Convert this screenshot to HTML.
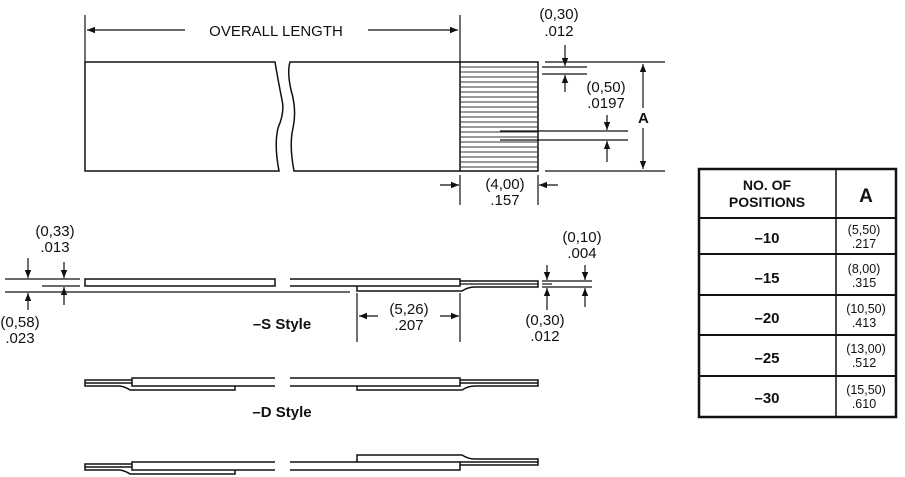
<!DOCTYPE html>
<html><head><meta charset="utf-8"><style>
body{margin:0;background:#fff}
svg{display:block}
text{font-family:"Liberation Sans",sans-serif;fill:#111}
</style></head><body>
<svg width="905" height="477" viewBox="0 0 905 477" xmlns="http://www.w3.org/2000/svg">
<defs>
<marker id="a" viewBox="0 0 10 10" refX="10" refY="5" markerWidth="12" markerHeight="8" markerUnits="userSpaceOnUse" orient="auto-start-reverse"><path d="M0,1 L10,5 L0,9 z" fill="#111"/></marker>
</defs>
<g stroke="#111" stroke-width="1.2" fill="none">
<!-- top view -->
<line x1="85" y1="15" x2="85" y2="62"/><line x1="460" y1="15" x2="460" y2="62"/>
<line x1="87" y1="30" x2="185" y2="30" marker-start="url(#a)"/>
<line x1="368" y1="30" x2="458" y2="30" marker-end="url(#a)"/>
<path d="M85,62 H275 Q278,80 282,100 Q285,112 278,128 Q274,145 279,171 H85 Z" stroke-width="1.5"/>
<path d="M460,62 H290 Q287,72 291,90 Q297,110 293,128 Q289,145 294,171 H460" stroke-width="1.5"/>
<rect x="460" y="62" width="78" height="109" stroke-width="1.5"/>
<path d="M460,67H538M460,72H538M460,77H538M460,82H538M460,87H538M460,92H538M460,97H538M460,102H538M460,107H538M460,112H538M460,117H538M460,122H538M460,127H538M460,132H538M460,137H538M460,142H538M460,147H538M460,152H538M460,157H538M460,162H538M460,167H538" stroke="#333" stroke-width="1.1"/>
<line x1="545" y1="62" x2="665" y2="62"/>
<line x1="542" y1="67" x2="587" y2="67"/><line x1="542" y1="74" x2="587" y2="74"/>
<line x1="565" y1="45" x2="565" y2="66" marker-end="url(#a)"/>
<line x1="565" y1="92" x2="565" y2="75" marker-end="url(#a)"/>
<line x1="500" y1="131" x2="628" y2="131"/><line x1="500" y1="140" x2="628" y2="140"/>
<line x1="607" y1="115" x2="607" y2="130" marker-end="url(#a)"/>
<line x1="607" y1="162" x2="607" y2="141" marker-end="url(#a)"/>
<line x1="545" y1="171" x2="665" y2="171"/>
<line x1="643" y1="64" x2="643" y2="108" marker-start="url(#a)"/>
<line x1="643" y1="128" x2="643" y2="169" marker-end="url(#a)"/>
<line x1="538" y1="175" x2="538" y2="205"/><line x1="460" y1="175" x2="460" y2="205"/>
<line x1="440" y1="185" x2="459" y2="185" marker-end="url(#a)"/>
<line x1="558" y1="185" x2="539" y2="185" marker-end="url(#a)"/>
<!-- S style -->
<line x1="5" y1="279" x2="80" y2="279"/><line x1="42" y1="286" x2="80" y2="286"/>
<line x1="5" y1="292" x2="350" y2="292"/>
<rect x="85" y="279" width="190" height="7" stroke-width="1.5"/>
<path d="M290,279 H460 V286 H290" stroke-width="1.5"/>
<path d="M460,281 H538 V287 H475 Q468,287 462,291 H357 V286" stroke-width="1.5"/>
<line x1="460" y1="284" x2="538" y2="284"/>
<line x1="542" y1="281" x2="592" y2="281"/><line x1="542" y1="284" x2="552" y2="284"/><line x1="542" y1="287" x2="592" y2="287"/>
<line x1="28" y1="258" x2="28" y2="278" marker-end="url(#a)"/>
<line x1="28" y1="310" x2="28" y2="293" marker-end="url(#a)"/>
<line x1="64" y1="262" x2="64" y2="278" marker-end="url(#a)"/>
<line x1="64" y1="305" x2="64" y2="287" marker-end="url(#a)"/>
<line x1="547" y1="265" x2="547" y2="280" marker-end="url(#a)"/>
<line x1="547" y1="310" x2="547" y2="288" marker-end="url(#a)"/>
<line x1="585" y1="265" x2="585" y2="280" marker-end="url(#a)"/>
<line x1="585" y1="307" x2="585" y2="288" marker-end="url(#a)"/>
<line x1="357" y1="293" x2="357" y2="342"/><line x1="460" y1="293" x2="460" y2="342"/>
<line x1="378" y1="316" x2="359" y2="316" marker-end="url(#a)"/>
<line x1="440" y1="316" x2="459" y2="316" marker-end="url(#a)"/>
<!-- D style -->
<g stroke-width="1.5">
<path d="M275,378 H132 V386 H275"/><path d="M132,380 H85 V386 H118 Q124,386 130,390 H235 V386"/><line x1="85" y1="383" x2="132" y2="383"/>
<path d="M290,378 H460 V386 H290"/><path d="M460,380 H538 V386 H475 Q468,386 462,390 H357 V386"/><line x1="460" y1="383" x2="538" y2="383"/>
<path d="M275,462 H132 V470 H275"/><path d="M132,464 H85 V470 H118 Q124,470 130,474 H235 V470"/><line x1="85" y1="467" x2="132" y2="467"/>
<path d="M290,462 H460 V470 H290"/><path d="M357,462 V455 H462 Q468,459 475,459 H538 V465 H460"/><line x1="460" y1="462" x2="538" y2="462"/>
</g>
<!-- table -->
<rect x="699" y="169" width="197" height="248" stroke-width="2.5"/>
<line x1="836" y1="169" x2="836" y2="417" stroke-width="1.5"/>
<line x1="699" y1="218" x2="896" y2="218" stroke-width="2"/>
<line x1="699" y1="254" x2="896" y2="254" stroke-width="2"/>
<line x1="699" y1="295" x2="896" y2="295" stroke-width="2"/>
<line x1="699" y1="335" x2="896" y2="335" stroke-width="2"/>
<line x1="699" y1="376" x2="896" y2="376" stroke-width="2"/>
</g>
<g font-size="15" text-anchor="middle">
<text x="276" y="36">OVERALL LENGTH</text>
<text x="559" y="19">(0,30)</text><text x="559" y="36">.012</text>
<text x="606" y="92">(0,50)</text><text x="606" y="108">.0197</text>
<text x="505" y="189">(4,00)</text><text x="505" y="205">.157</text>
<text x="55" y="236">(0,33)</text><text x="55" y="252">.013</text>
<text x="20" y="327">(0,58)</text><text x="20" y="343">.023</text>
<text x="582" y="242">(0,10)</text><text x="582" y="258">.004</text>
<text x="545" y="325">(0,30)</text><text x="545" y="341">.012</text>
<text x="409" y="314">(5,26)</text><text x="409" y="330">.207</text>
</g>
<g font-weight="bold" text-anchor="middle">
<text x="638" y="123" font-size="15" text-anchor="start">A</text>
<text x="282" y="329" font-size="15">–S Style</text>
<text x="282" y="417" font-size="15">–D Style</text>
<text x="767" y="190" font-size="14">NO. OF</text>
<text x="767" y="207" font-size="14">POSITIONS</text>
<text x="866" y="202" font-size="19">A</text>
<text x="767" y="243" font-size="15">–10</text>
<text x="767" y="283" font-size="15">–15</text>
<text x="767" y="323" font-size="15">–20</text>
<text x="767" y="363" font-size="15">–25</text>
<text x="767" y="403" font-size="15">–30</text>
</g>
<g font-size="12.5" text-anchor="middle">
<text x="864" y="234">(5,50)</text><text x="864" y="248">.217</text>
<text x="864" y="273">(8,00)</text><text x="864" y="287">.315</text>
<text x="866" y="313">(10,50)</text><text x="864" y="327">.413</text>
<text x="866" y="353">(13,00)</text><text x="864" y="367">.512</text>
<text x="866" y="394">(15,50)</text><text x="864" y="408">.610</text>
</g>
</svg>
</body></html>
